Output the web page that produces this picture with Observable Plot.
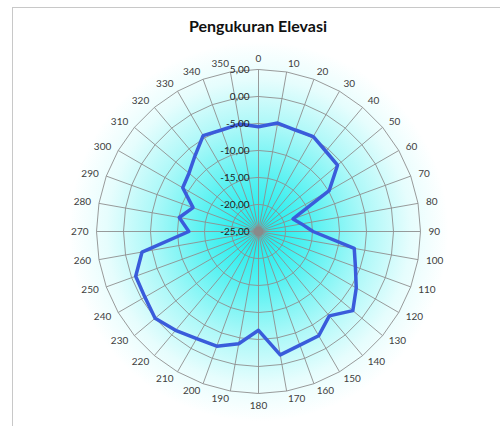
<!DOCTYPE html>
<html>
<head>
<meta charset="utf-8">
<script src="https://cdn.jsdelivr.net/npm/d3@7"></script>
<script src="https://cdn.jsdelivr.net/npm/@observablehq/plot@0.6"></script>
<style>
  html, body { margin: 0; padding: 0; background: #fff; overflow: hidden; }
  #wrap { position: relative; width: 500px; height: 426px; overflow: hidden; }
  #frame { position: absolute; left: 12px; top: 7px; width: 600px; height: 600px; border: 1px solid #c8c8c8; box-sizing: border-box; }
  #title { position: relative; height: 45px; box-sizing: border-box; padding-top: 16px; padding-left: 16px; text-align: center;
           font-family: Lato, "Open Sans", sans-serif; font-weight: bold; font-size: 16px; color: #111; line-height: 20px; }
  #chart { position: relative; }
</style>
</head>
<body>
<div id="wrap">
  <div id="frame"></div>
  <div id="title">Pengukuran Elevasi</div>
  <div id="chart"></div>
</div>
<script>
// ---- data ----
const angles = [0,10,20,30,40,50,60,70,80,90,100,110,120,130,140,150,160,170,180,190,200,210,220,230,240,250,260,270,280,290,300,310,320,330,340,350];
const elevasi = [-5.6,-4.6,-5.0,-4.7,-5.6,-5.9,-9.9,-18.2,-16.9,-14.9,-7.0,-5.9,-4.1,-2.2,-4.6,-2.7,-2.6,-1.8,-6.7,-3.9,-2.4,-2.1,-1.1,0.0,-0.7,-0.8,-3.1,-12.1,-10.1,-12.1,-8.8,-8.2,-6.7,-4.5,-5.0,-4.8];
const radialTicks = [-25,-20,-15,-10,-5,0,5];
const radialTickLabels = ["-25,00","-20,00","-15,00","-10,00","-5,00","0,00","5,00"];
const angleLabels = angles.map(String);

// ---- geometry helpers ----
const rMin = -25, rMax = 5;
const pxPerUnit = 5.4;
const W = 500, H = 381, cx = 258, cy = 186;
const rad = a => a * Math.PI / 180;
const pol = (a, v) => ({x: (v - rMin) * Math.sin(rad(a)), y: (v - rMin) * Math.cos(rad(a))});
const labelR = (rMax - rMin) + 8 / pxPerUnit;
const labelPos = a => ({x: labelR * Math.sin(rad(a)), y: labelR * Math.cos(rad(a))});

const series = angles.map((a, i) => ({a, v: elevasi[i], ...pol(a, elevasi[i])}));
const rings = radialTicks.slice(1).flatMap(l => angles.map(a => ({level: l, a, ...pol(a, l)})));
const spokes = angles.map(a => ({a, x1: 0, y1: 0, ...(() => { const p = pol(a, rMax); return {x2: p.x, y2: p.y}; })()}));
const lbl = angles.map((a, i) => ({a, text: angleLabels[i], ...labelPos(a)}));
const ticks = radialTicks.map((t, i) => ({x: 0, y: t - rMin, text: radialTickLabels[i]}));
const center = [{x: 0, y: 0}];

const svg = Plot.plot({
  width: W, height: H,
  margin: 0,
  x: {domain: [-cx / pxPerUnit, (W - cx) / pxPerUnit], range: [0, W], axis: null},
  y: {domain: [-(H - cy) / pxPerUnit, cy / pxPerUnit], range: [H, 0], axis: null},
  style: {fontFamily: "Lato, 'Open Sans', sans-serif", fontSize: "10px", background: "transparent", overflow: "visible"},
  marks: [
    Plot.dot(center, {x: "x", y: "y", r: 190, fill: "url(#bgGrad)", stroke: "none"}),
    Plot.line(rings, {x: "x", y: "y", z: "level", curve: "linear-closed", stroke: "#8f8f8f", strokeWidth: 0.9}),
    Plot.link(spokes, {x1: "x1", y1: "y1", x2: "x2", y2: "y2", stroke: "#8f8f8f", strokeWidth: 0.9}),
    Plot.dot(center, {x: "x", y: "y", r: 5, fill: "#8a8a8a", stroke: "none"}),
    Plot.line(series, {x: "x", y: "y", curve: "linear-closed", stroke: "#3a5cdb", strokeWidth: 3.5, strokeLinejoin: "round"}),
    Plot.text(ticks, {x: "x", y: "y", text: "text", textAnchor: "end", dx: -9, fill: "#1e1e1e"}),
    Plot.text(lbl.filter(d => d.a === 0), {x: "x", y: "y", text: "text", lineAnchor: "bottom", fill: "#404040"}),
    Plot.text(lbl.filter(d => d.a === 180), {x: "x", y: "y", text: "text", lineAnchor: "top", fill: "#404040"}),
    Plot.text(lbl.filter(d => d.a > 0 && d.a < 180), {x: "x", y: "y", text: "text", textAnchor: "start", fill: "#404040"}),
    Plot.text(lbl.filter(d => d.a > 180), {x: "x", y: "y", text: "text", textAnchor: "end", fill: "#404040"})
  ]
});

// gradient definition used by the background dot
const defs = d3.select(svg).insert("defs", ":first-child");
const g = defs.append("radialGradient").attr("id", "bgGrad").attr("cx", "50%").attr("cy", "50%").attr("r", "50%");
[[0, "#12ecec"], [0.3, "#5cf2f2"], [0.55, "#a9f8f8"], [0.8, "#e6fdfd"], [1, "#ffffff"]]
  .forEach(([o, c]) => g.append("stop").attr("offset", o).attr("stop-color", c));

document.getElementById("chart").appendChild(svg);
</script>
</body>
</html>
